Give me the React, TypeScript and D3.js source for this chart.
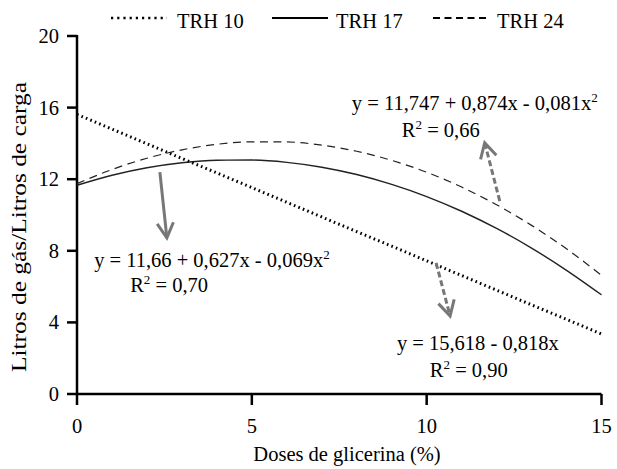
import React from "react";
import * as d3 from "d3";

const doses = [0, 1, 2, 3, 4, 5, 6, 7, 8, 9, 10, 11, 12, 13, 14, 15];
const trh10 = [15.62, 14.8, 13.98, 13.16, 12.35, 11.53, 10.71, 9.89, 9.07, 8.26, 7.44, 6.62, 5.8, 4.98, 4.17, 3.35];
const trh17 = [11.66, 12.22, 12.64, 12.92, 13.06, 13.07, 12.94, 12.67, 12.26, 11.71, 11.03, 10.21, 9.25, 8.15, 6.91, 5.54];
const trh24 = [11.75, 12.54, 13.17, 13.64, 13.95, 14.09, 14.08, 13.9, 13.56, 13.05, 12.39, 11.56, 10.57, 9.42, 8.11, 6.63];
const xTicks = [0, 5, 10, 15];
const yTicks = [0, 4, 8, 12, 16, 20];
const seriesNames = ["TRH 10", "TRH 17", "TRH 24"];

const W = 617, H = 469;
const FONT = "Liberation Serif, Times New Roman, serif";

export default function App() {
  const x = d3.scaleLinear().domain([0, 15]).range([77, 601.5]);
  const y = d3.scaleLinear().domain([0, 20]).range([394, 36]);
  const line = (vals: number[]) =>
    d3.line<number>().x((_, i) => x(doses[i])).y((d) => y(d)).curve(d3.curveMonotoneX)(vals) || "";

  const arrowGray = "#777";
  const arrow = (x1: number, y1: number, x2: number, y2: number, dashed: boolean, key: string) => {
    const px1 = x(x1), py1 = y(y1), px2 = x(x2), py2 = y(y2);
    const ang = Math.atan2(py2 - py1, px2 - px1);
    const hl = 17, ha = 0.5;
    const a1 = [px2 - hl * Math.cos(ang - ha), py2 - hl * Math.sin(ang - ha)];
    const a2 = [px2 - hl * Math.cos(ang + ha), py2 - hl * Math.sin(ang + ha)];
    return (
      <g key={key} stroke={arrowGray} strokeWidth={3} fill="none">
        <line x1={px1} y1={py1} x2={px2 - 2 * Math.cos(ang)} y2={py2 - 2 * Math.sin(ang)} strokeDasharray={dashed ? "6 3" : undefined} />
        <polyline points={`${a1[0]},${a1[1]} ${px2},${py2} ${a2[0]},${a2[1]}`} strokeLinejoin="miter" />
      </g>
    );
  };

  const fs = 20.5;
  const sup = (s: string) => (
    <tspan dy={-8} fontSize={13}>{s}</tspan>
  );
  return (
    <svg width={W} height={H} style={{ position: "absolute", left: 0, top: 0, background: "#fff", fontFamily: FONT }}>
      <rect x={0} y={0} width={W} height={H} fill="#fff" />
      {/* legend */}
      <g fontSize={fs} fill="#000" style={{ fontFamily: FONT }}>
        <line x1={111} x2={167} y1={18} y2={18} stroke="#000" strokeWidth={2.5} strokeDasharray="2.2 4" />
        <text x={177} y={28}>{seriesNames[0]}</text>
        <line x1={272} x2={328} y1={18} y2={18} stroke="#000" strokeWidth={2.2} />
        <text x={336} y={28}>{seriesNames[1]}</text>
        <line x1={433} x2={487} y1={18} y2={18} stroke="#000" strokeWidth={2.2} strokeDasharray="7 4.5" />
        <text x={497} y={28}>{seriesNames[2]}</text>
      </g>

      {/* axes */}
      <g stroke="#000" strokeWidth={2.5}>
        <line x1={x(0)} x2={x(15)} y1={y(0)} y2={y(0)} />
        <line x1={x(0)} x2={x(0)} y1={y(0) + 1} y2={y(20) - 1} />
        {yTicks.map((t) => (
          <line key={"yt" + t} x1={x(0) - 10} x2={x(0)} y1={y(t)} y2={y(t)} />
        ))}
        {xTicks.map((t) => (
          <line key={"xt" + t} x1={x(t)} x2={x(t)} y1={y(0)} y2={y(0) + 11} />
        ))}
      </g>
      <g fontSize={fs} fill="#000" style={{ fontFamily: FONT }}>
        {yTicks.map((t) => (
          <text key={"yl" + t} x={x(0) - 18} y={y(t) + 7} textAnchor="end">{t}</text>
        ))}
        {xTicks.map((t) => (
          <text key={"xl" + t} x={x(t)} y={433} textAnchor="middle">{t}</text>
        ))}
        <text x={347} y={461} textAnchor="middle">Doses de glicerina (%)</text>
        <text transform={`translate(26, 227) rotate(-90)`} textAnchor="middle" textLength={290} lengthAdjust="spacingAndGlyphs">Litros de gás/Litros de carga</text>
      </g>

      {/* series */}
      <path d={line(trh24)} fill="none" stroke="#222" strokeWidth={1.2} strokeDasharray="8 5.5" />
      <path d={line(trh17)} fill="none" stroke="#222" strokeWidth={1.4} />
      <path d={line(trh10)} fill="none" stroke="#000" strokeWidth={3} strokeDasharray="1.6 3.2" />

      {/* arrows */}
      {arrow(2.37, 12.4, 2.57, 8.72, false, "a17")}
      {arrow(12.09, 10.78, 11.66, 14.03, true, "a24")}
      {arrow(10.27, 7.32, 10.67, 4.36, true, "a10")}

      {/* equations */}
      <g fontSize={fs} fill="#000" style={{ fontFamily: FONT }}>
        <text x={x(7.86)} y={y(15.87)}>
          y = 11,747 + 0,874x - 0,081x{sup("2")}
        </text>
        <text x={x(9.29)} y={y(14.36)}>
          R{sup("2")}<tspan dy={8}> = 0,66</tspan>
        </text>
        <text x={x(0.49)} y={y(7.09)}>
          y = 11,66 + 0,627x - 0,069x{sup("2")}
        </text>
        <text x={x(1.52)} y={y(5.7)}>
          R{sup("2")}<tspan dy={8}> = 0,70</tspan>
        </text>
        <text x={x(9.15)} y={y(2.46)}>y = 15,618 - 0,818x</text>
        <text x={x(10.09)} y={y(0.95)}>
          R{sup("2")}<tspan dy={8}> = 0,90</tspan>
        </text>
      </g>
    </svg>
  );
}
